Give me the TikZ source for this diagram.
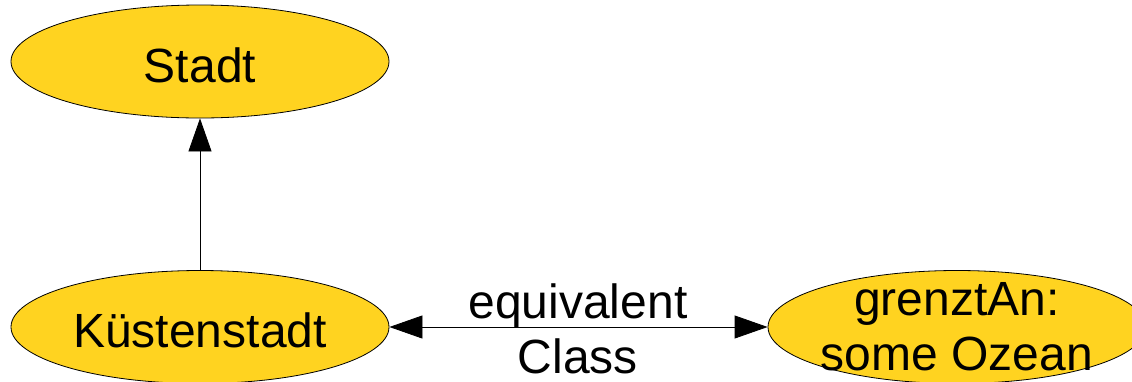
\documentclass[tikz,border=0pt]{standalone}
\usepackage{fontspec}
\setmainfont{Liberation Sans}
\usetikzlibrary{shapes.geometric,arrows.meta}
\definecolor{nodeyellow}{RGB}{255,211,32}
\tikzset{
  cls/.style={ellipse, draw=black, line width=0.8pt, fill=nodeyellow, minimum width=378pt, minimum height=113pt, inner sep=0pt, text height=41pt, text depth=0pt, font=\fontsize{48}{55}\selectfont},
  lbl/.style={anchor=base, inner sep=0pt, font=\fontsize{48}{55}\selectfont},
  conn/.style={line width=0.8pt, draw=black}
}
\begin{document}
\begin{tikzpicture}[x=1pt, y=-1pt]
\useasboundingbox (0,0) rectangle (1132,381);
\node[cls] (stadt) at (200,61.5) {Stadt};
\node[cls] (kuest) at (200,327) {Küstenstadt};
\node[cls] (ozean) at (957,327) {};
\node[lbl] (oz1) at (957,315) {grenztAn:};
\node[lbl] (oz2) at (957,370) {some Ozean};
\draw[conn, -{Triangle[length=33pt, width=23pt]}] (kuest) -- (stadt);
\draw[conn, {Triangle[length=33pt, width=23pt]}-{Triangle[length=33pt, width=23pt]}] (kuest) -- (ozean);
\node[lbl] (eq1) at (578,318) {equivalent};
\node[lbl] (eq2) at (578,373) {Class};
\end{tikzpicture}
\end{document}
